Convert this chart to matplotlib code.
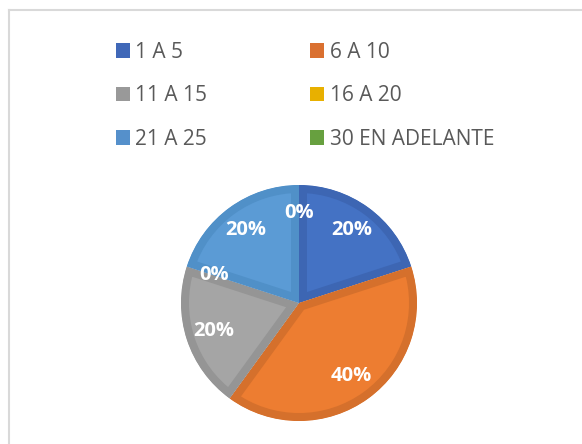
import matplotlib
matplotlib.use("Agg")
import matplotlib.pyplot as plt
from matplotlib.patches import Patch
from matplotlib.lines import Line2D
import numpy as np

categories = ["1 A 5", "6 A 10", "11 A 15", "16 A 20", "21 A 25", "30 EN ADELANTE"]
values = [20, 40, 20, 0, 20, 0]
labels_pct = ["20%", "40%", "20%", "0%", "20%", "0%"]

fill_colors = ["#4472C4", "#ED7D31", "#A5A5A5", "#FFC000", "#5B9BD5", "#70AD47"]
edge_colors = ["#3D66B3", "#D5702C", "#959595", "#E0A800", "#5090C8", "#62993E"]
legend_colors = ["#4068B8", "#DA7030", "#999999", "#E8B000", "#5590CB", "#67A03F"]

W, H = 582, 444
fig = plt.figure(figsize=(W / 100, H / 100), dpi=100)
fig.patch.set_facecolor("white")

# chart frame (left and top visible)
fig.add_artist(Line2D([9 / W, 9 / W], [0, 1 - 10.5 / H], color="#D9D9D9", lw=1.5))
fig.add_artist(Line2D([9 / W, 1], [1 - 10.5 / H, 1 - 10.5 / H], color="#D9D9D9", lw=1.5))

# pie axes: center (299, 303), radius 118
cx, cy, r = 299, 303, 118
ax = fig.add_axes([(cx - r) / W, 1 - (cy + r) / H, 2 * r / W, 2 * r / H])

wedges, texts = ax.pie(
    values, colors=fill_colors, startangle=90, counterclock=False,
    radius=1.0, labels=None,
    wedgeprops=dict(linewidth=11.5, joinstyle="miter"),
)
ax.set_xlim(-1, 1)
ax.set_ylim(-1, 1)
ax.set_aspect("equal")
ax.axis("off")
for w, ec, v in zip(wedges, edge_colors, values):
    w.set_edgecolor(ec)
    w.set_clip_on(True)
    w.set_clip_path(w)
    if v == 0:
        w.set_visible(False)

# labels for all slices, including zero ones
total = sum(values)
start = 90.0
for v, lab in zip(values, labels_pct):
    span = 360.0 * v / total
    mid = np.deg2rad(start - span / 2)
    d = 0.76
    ax.text(d * np.cos(mid), d * np.sin(mid), lab, ha="center", va="center",
            color="white", fontsize=14.5, fontweight="bold", family="Open Sans")
    start -= span

order = [0, 2, 4, 1, 3, 5]
handles = [Patch(facecolor=legend_colors[i], edgecolor="none") for i in order]
leg_labels = [categories[i] for i in order]
leg = fig.legend(handles, leg_labels, ncol=2, loc="upper left",
                 bbox_to_anchor=(97 / W, 1 - 23 / H), frameon=False,
                 handlelength=0.68, handleheight=0.68,
                 handletextpad=0.25, columnspacing=4.95, labelspacing=1.08,
                 prop=dict(family="Open Sans", size=15))
for t in leg.get_texts():
    t.set_color("#595959")

fig.savefig("out.png", dpi=100, facecolor="white")
